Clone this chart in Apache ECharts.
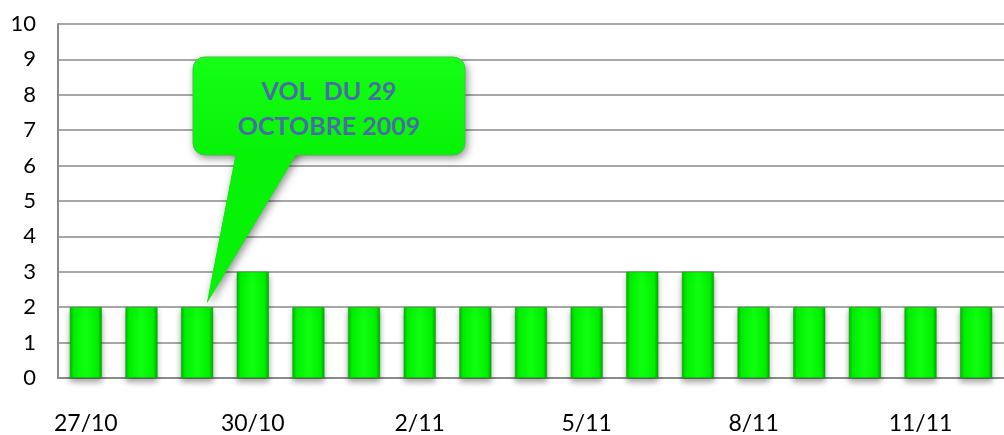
<!DOCTYPE html>
<html><head><meta charset="utf-8">
<script src="https://cdn.jsdelivr.net/npm/echarts@6/dist/echarts.min.js"></script>
<style>html,body{margin:0;padding:0;background:#fff}#c{width:1004px;height:435px}</style>
</head><body><div id="c"></div>
<script>
const categories = ['27/10','28/10','29/10','30/10','31/10','1/11','2/11','3/11','4/11','5/11','6/11','7/11','8/11','9/11','10/11','11/11','12/11'];
const values = [2,2,2,3,2,2,2,2,2,2,3,3,2,2,2,2,2];
const calloutLines = ['VOL  DU 29', 'OCTOBRE 2009'];

const chart = echarts.init(document.getElementById('c'));
const font = 'Lato, "Open Sans", sans-serif';
const barGrad = {type:'linear',x:0,y:0,x2:1,y2:0,colorStops:[
  {offset:0,color:'#00b800'},{offset:0.12,color:'#00f000'},{offset:0.5,color:'#10ff10'},{offset:0.88,color:'#00f000'},{offset:1,color:'#00a800'}]};
const boxGrad = {type:'linear',x:0,y:0,x2:0,y2:1,colorStops:[{offset:0,color:'#16ff16'},{offset:1,color:'#06f206'}]};
const pointerFill = '#06f206';
const boxShape = {x:193,y:57,width:272,height:98,r:12};
const pointerPts = [[237,148],[300,148],[207,303]];
const shadow = {shadowColor:'rgba(0,0,0,0.45)',shadowBlur:8,shadowOffsetX:2,shadowOffsetY:3};
const textStyle = {align:'center',verticalAlign:'middle',fill:'#4a6aa8',font:'bold 25px '+font,
  shadowColor:'rgba(40,60,120,0.55)',shadowBlur:3,shadowOffsetY:2};
chart.setOption({
  animation:false,
  grid:{left:58,right:-6,top:24,bottom:56},
  xAxis:{type:'category',data:categories,
    axisLine:{lineStyle:{color:'#8a8a8a',width:2}},
    axisTick:{show:false},
    axisLabel:{interval:2,color:'#000',fontSize:23,fontFamily:font,margin:34}},
  yAxis:{type:'value',min:0,max:10,interval:1,
    axisLine:{show:true,lineStyle:{color:'#8a8a8a',width:2}},
    axisTick:{show:false},
    axisLabel:{color:'#000',fontSize:22,fontFamily:font,margin:22},
    splitLine:{lineStyle:{color:'#8a8a8a',width:1.5}}},
  series:[{type:'bar',data:values,barWidth:32,
    itemStyle:{color:barGrad,borderColor:'#00a000',borderWidth:0.5,
      shadowColor:'rgba(0,0,0,0.35)',shadowBlur:6,shadowOffsetY:4}}],
  graphic:[
    {type:'rect',z:10,shape:boxShape,style:Object.assign({fill:'#00d800'},shadow)},
    {type:'polygon',z:10,shape:{points:pointerPts},style:Object.assign({fill:'#00d800'},shadow)},
    {type:'rect',z:11,shape:boxShape,style:{fill:boxGrad,stroke:'#3cc83c',lineWidth:1}},
    {type:'polygon',z:12,shape:{points:pointerPts},style:{fill:pointerFill}},
    {type:'text',x:329,y:92,z:13,style:Object.assign({text:calloutLines[0]},textStyle)},
    {type:'text',x:329,y:127,z:13,style:Object.assign({text:calloutLines[1]},textStyle)}
  ]
});
</script></body></html>
